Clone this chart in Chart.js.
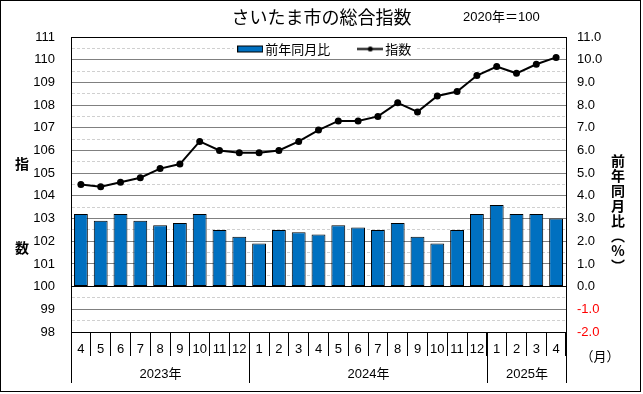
<!DOCTYPE html>
<html>
<head>
<meta charset="utf-8">
<script src="https://cdn.jsdelivr.net/npm/chart.js@4"></script>
<style>
  body { margin: 0; background: #fff; }
  #wrap { width: 643px; height: 394px; position: relative; }
</style>
</head>
<body>
<div id="wrap"><canvas id="chart"></canvas></div>
<script>
// months on the axis, grouped by year
var months = ['4', '5', '6', '7', '8', '9', '10', '11', '12',
    '1', '2', '3', '4', '5', '6', '7', '8', '9', '10', '11', '12',
    '1', '2', '3', '4'];
var yearLabels = ['2023年', '2024年', '2025年'];
var yearSpans = [9, 12, 4];

// 前年同月比 (%)
var yoy = [3.2, 2.9, 3.2, 2.9, 2.7, 2.8, 3.2, 2.5, 2.2,
    1.9, 2.5, 2.4, 2.3, 2.7, 2.6, 2.5, 2.8, 2.2, 1.9, 2.5, 3.2,
    3.6, 3.2, 3.2, 3.0];
// 指数 (2020年=100)
var index = [104.5, 104.4, 104.6, 104.8, 105.2, 105.4, 106.4, 106.0, 105.9,
    105.9, 106.0, 106.4, 106.9, 107.3, 107.3, 107.5, 108.1, 107.7, 108.4, 108.6, 109.3,
    109.7, 109.4, 109.8, 110.1];

var FONT = "'Liberation Sans', 'Noto Sans CJK JP', sans-serif";
var JP = "'Noto Sans CJK JP', sans-serif";
Chart.defaults.font.family = FONT;
Chart.defaults.font.size = 13;
Chart.defaults.color = '#000';

// legend swatches
function swatch(kind) {
    var c = document.createElement('canvas');
    c.width = 26; c.height = 9;
    var g = c.getContext('2d');
    if (kind === 'bar') {
        g.fillStyle = '#0070C0';
        g.fillRect(0.5, 1.5, 25, 6);
        g.strokeStyle = '#000';
        g.lineWidth = 1;
        g.strokeRect(0.5, 1.5, 25, 6);
    } else {
        g.strokeStyle = '#000';
        g.lineWidth = 2;
        g.beginPath(); g.moveTo(0, 4.5); g.lineTo(26, 4.5); g.stroke();
        g.fillStyle = '#000';
        g.beginPath(); g.arc(13, 4.5, 2.5, 0, Math.PI * 2); g.fill();
    }
    return c;
}
var barSwatch = swatch('bar');
var lineSwatch = swatch('line');

function isInt(v) { return Math.abs(v - Math.round(v)) < 1e-6; }

// the legend sits inside the plot, like the original: it takes no room in the layout,
// then gets moved down into the top of the chart area (on a white patch)
var legendInside = {
    id: 'legendInside',
    beforeLayout: function (chart) {
        var lg = chart.legend;
        if (lg && !lg._inside) {
            var fit = lg.fit;
            lg.fit = function () {
                fit.call(this);
                this._realHeight = this.height;
                this.height = 0;
            };
            var draw = lg.draw;
            lg.draw = function () {
                var c = this.ctx, pad = this.options.labels.padding;
                var rowW = this.lineWidths[0];
                var x0 = (this.left + pad + this.right - rowW) / 2;
                c.save();
                c.fillStyle = '#fff';
                c.fillRect(x0 - 8, this.top + pad - 3, rowW + 8, 19);
                c.restore();
                draw.call(this);
            };
            lg._inside = true;
        }
    },
    afterLayout: function (chart) {
        var lg = chart.legend, a = chart.chartArea;
        lg.top = a.top;
        lg.height = lg._realHeight;
        lg.bottom = lg.top + lg.height;
        lg.left += 5;
        lg.right += 5;
    }
};

var extras = {
    id: 'extras',
    afterDraw: function (chart) {
        var ctx = chart.ctx, a = chart.chartArea, x = chart.scales.x;
        ctx.save();
        // outer frame
        ctx.strokeStyle = '#000';
        ctx.lineWidth = 1;
        ctx.strokeRect(0.5, 0.5, 640, 391);

        ctx.fillStyle = '#000';
        ctx.font = '13px ' + FONT;
        ctx.textAlign = 'left';
        ctx.textBaseline = 'middle';
        ctx.fillText('2020年＝100', 463, 17);

        // axis titles, written vertically
        ctx.font = 'bold 14px ' + JP;
        ctx.textAlign = 'center';
        ctx.fillText('指', 22, 164);
        ctx.fillText('数', 22, 248);
        var right = ['前', '年', '同', '月', '比', '︵', '%', '︶'];
        right.forEach(function (ch, i) {
            ctx.fillText(ch, 618, 161 + i * 15);
        });

        // year groups under the month labels
        var half = (x.getPixelForValue(1) - x.getPixelForValue(0)) / 2;
        var start = 0;
        ctx.font = '13px ' + FONT;
        ctx.lineWidth = 1;
        yearLabels.forEach(function (label, k) {
            var end = start + yearSpans[k] - 1;
            var l = Math.round(x.getPixelForValue(start) - half) + 0.5;
            var r = Math.round(x.getPixelForValue(end) + half) + 0.5;
            ctx.beginPath();
            ctx.moveTo(l, a.bottom);
            ctx.lineTo(l, a.bottom + 51);
            if (k === yearLabels.length - 1) {
                ctx.moveTo(r, a.bottom);
                ctx.lineTo(r, a.bottom + 51);
            }
            ctx.stroke();
            ctx.fillText(label, (l + r) / 2, a.bottom + 42);
            start += yearSpans[k];
        });

        ctx.font = '13px ' + JP;
        ctx.fillText('（月）', 600, 356);
        ctx.restore();
    }
};

var ctx = document.getElementById('chart').getContext('2d');
var myChart = new Chart(ctx, {
    type: 'bar',
    data: {
        labels: months,
        datasets: [{
            label: '前年同月比',
            data: yoy,
            yAxisID: 'y1',
            backgroundColor: '#0070C0',
            borderColor: '#000',
            borderWidth: 1,
            borderSkipped: false,
            barPercentage: 0.7,
            categoryPercentage: 1.0,
            order: 1
        },
            {
                type: 'line',
                label: '指数',
                data: index,
                yAxisID: 'y',
                borderColor: '#000',
                backgroundColor: '#000',
                borderWidth: 2,
                pointRadius: 2.5,
                pointBackgroundColor: '#000',
                tension: 0,
                order: 0
            }
        ]
    },
    options: {
        responsive: true,
        maintainAspectRatio: false,
        animation: false,
        layout: { padding: 0 },
        plugins: {
            title: {
                display: true,
                text: 'さいたま市の総合指数',
                font: { size: 18, weight: 'normal', family: JP },
                color: '#000',
                padding: { top: 6, bottom: 9.4 }
            },
            legend: {
                position: 'top',
                align: 'center',
                labels: {
                    usePointStyle: true,
                    pointStyleWidth: 17,
                    padding: 5.5,
                    font: { size: 13, family: JP },
                    color: '#000',
                    generateLabels: function () {
                        return [
                            { text: '前年同月比　　', pointStyle: barSwatch, datasetIndex: 0, lineWidth: 0, fillStyle: '#0070C0', strokeStyle: '#000' },
                            { text: '指数', pointStyle: lineSwatch, datasetIndex: 1, lineWidth: 0, fillStyle: '#000', strokeStyle: '#000' }
                        ];
                    }
                }
            },
            tooltip: { enabled: false }
        },
        scales: {
            x: {
                afterFit: function (s) { s.height = 62; },
                grid: {
                    offset: true,
                    drawOnChartArea: false,
                    drawTicks: true,
                    tickLength: 24,
                    color: '#000'
                },
                border: { color: '#000' },
                ticks: {
                    autoSkip: false,
                    maxRotation: 0,
                    padding: -14,
                    font: { size: 13 }
                }
            },
            y: {
                position: 'left',
                min: 98,
                max: 111,
                afterFit: function (s) { s.width = 71; },
                grid: {
                    drawTicks: false,
                    color: function (c) {
                        if (!c.tick) return '#808080';
                        var v = c.tick.value;
                        if (v === 111 || v === 98 || v === 100) return '#000';
                        return isInt(v) ? '#808080' : '#D0D0D0';
                    }
                },
                border: {
                    color: '#000',
                    dash: function (c) {
                        return (c.tick && !isInt(c.tick.value)) ? [3, 2] : [];
                    }
                },
                ticks: {
                    stepSize: 0.5,
                    autoSkip: false,
                    padding: 16,
                    font: { size: 13 },
                    callback: function (v) { return isInt(v) ? String(Math.round(v)) : ''; }
                }
            },
            y1: {
                position: 'right',
                min: -2,
                max: 11,
                afterFit: function (s) { s.width = 77; },
                grid: { drawOnChartArea: false, drawTicks: false },
                border: { color: '#000' },
                ticks: {
                    stepSize: 0.5,
                    autoSkip: false,
                    padding: 11,
                    font: { size: 13 },
                    color: function (c) { return c.tick && c.tick.value < 0 ? '#FF0000' : '#000'; },
                    callback: function (v) { return isInt(v) ? v.toFixed(1) : ''; }
                }
            }
        }
    },
    plugins: [legendInside, extras]
});
</script>
</body>
</html>
